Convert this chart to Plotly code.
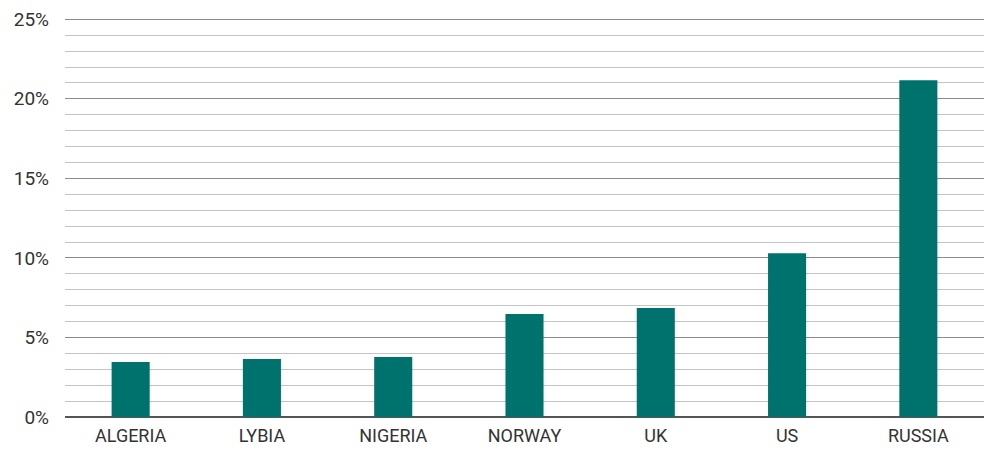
import plotly.graph_objects as go

countries = ["ALGERIA", "LYBIA", "NIGERIA", "NORWAY", "UK", "US", "RUSSIA"]
shares = [3.45, 3.64, 3.77, 6.47, 6.85, 10.3, 21.17]

fig = go.Figure(go.Bar(x=countries, y=shares, marker=dict(color="#00726E", line=dict(width=0)),
                       hoverinfo="x+y"))

fig.update_layout(
    width=999, height=463,
    margin=dict(l=65, r=15, t=18, b=46),
    paper_bgcolor="white", plot_bgcolor="white",
    bargap=0.71,
    showlegend=False,
    font=dict(family="Roboto, Liberation Sans, sans-serif", color="#333333"),
)
fig.update_xaxes(
    showgrid=False, showline=False, ticks="",
    tickfont=dict(size=18, color="#333333"),
    ticklabelstandoff=6,
    automargin=False,
)
fig.update_yaxes(
    range=[0, 25.08], tickvals=[0, 5, 10, 15, 20, 25], ticktext=["0%", "5%", "10%", "15%", "20%", "25%"],
    showgrid=True, gridcolor="#8a8a8a", gridwidth=1,
    zeroline=True, zerolinecolor="#555555", zerolinewidth=1.5,
    showline=False, ticks="",
    tickfont=dict(size=19, color="#333333"),
    ticklabelstandoff=15,
    automargin=False,
    minor=dict(dtick=1, showgrid=True, gridcolor="#c4c4c4", gridwidth=1),
)

fig.write_html("out.html", config={"displayModeBar": False},
               post_script="document.body.style.margin='0';")
